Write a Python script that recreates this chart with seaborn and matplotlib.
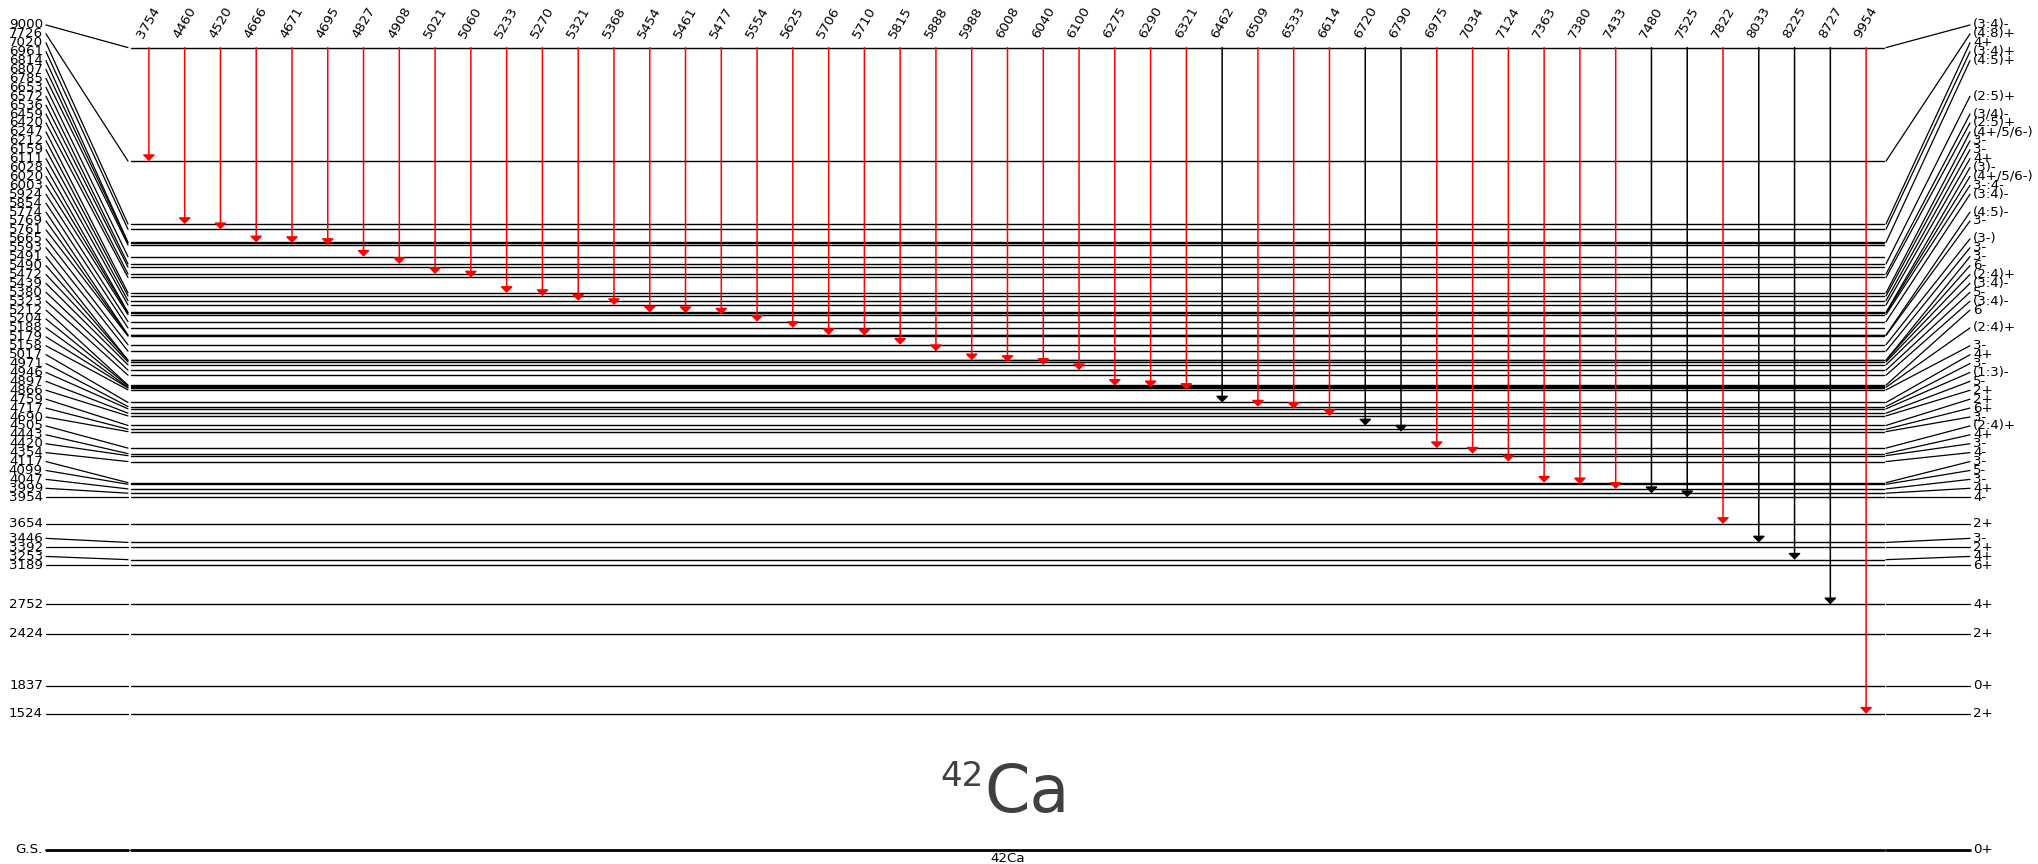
import matplotlib
matplotlib.use("Agg")
import matplotlib.pyplot as plt
import numpy as np
import pandas as pd
import seaborn as sns

# ---------------- data ----------------
levels = [9000, 7726, 7020, 6961, 6814, 6807, 6785, 6653, 6572, 6536, 6459, 6420,
          6247, 6212, 6159, 6111, 6028, 6020, 6003, 5924, 5854, 5774, 5769, 5761,
          5665, 5593, 5491, 5490, 5472, 5439, 5380, 5323, 5212, 5204, 5188, 5179,
          5158, 5017, 4971, 4946, 4897, 4866, 4759, 4717, 4690, 4505, 4443, 4420,
          4354, 4117, 4099, 4047, 3999, 3954, 3654, 3446, 3392, 3253, 3189, 2752,
          2424, 1837, 1524, 0]
level_names = [str(e) for e in levels[:-1]] + ["G.S."]
spins = ["(3:4)-", "(4:8)+", "4+", "(3:4)+", "(4:5)+", "", "", "", "(2:5)+", "",
         "(3/4)-", "(2:5)+", "(4+/5/6-)", "3-", "3-", "4+", "(3)-", "(4+/5/6-)",
         "3-:4-", "(3:4)-", "", "(4:5)-", "3-", "", "(3-)", "3-", "3-", "6-",
         "(2:4)+", "(3:4)-", "5-", "(3:4)-", "6", "", "(2:4)+", "", "3-", "4+",
         "3-", "(1:3)-", "5-", "2+", "2+", "6+", "3-", "(2:4)+", "4+", "3-", "4-",
         "3-", "5-", "3-", "4+", "4-", "2+", "3-", "2+", "4+", "6+", "4+", "2+",
         "0+", "2+", "0+"]

gammas = [3754, 4460, 4520, 4666, 4671, 4695, 4827, 4908, 5021, 5060, 5233, 5270,
          5321, 5368, 5454, 5461, 5477, 5554, 5625, 5706, 5710, 5815, 5888, 5988,
          6008, 6040, 6100, 6275, 6290, 6321, 6462, 6509, 6533, 6614, 6720, 6790,
          6975, 7034, 7124, 7363, 7380, 7433, 7480, 7525, 7822, 8033, 8225, 8727,
          9954]
gamma_final = [7726, 7020, 6961, 6814, 6807, 6785, 6653, 6572, 6459, 6420, 6247,
               6212, 6159, 6111, 6028, 6020, 6003, 5924, 5854, 5774, 5769, 5665,
               5593, 5491, 5472, 5439, 5380, 5204, 5188, 5158, 5017, 4971, 4946,
               4866, 4759, 4690, 4505, 4443, 4354, 4117, 4099, 4047, 3999, 3954,
               3654, 3446, 3253, 2752, 1524]
black_gammas = [6462, 6720, 6790, 7480, 7525, 8033, 8225, 8727]
initial_level = 9000
nucleus = "42Ca"

# ---------------- layout ----------------
W, H = 2038, 864
k = 0.0891          # px per keV
y0 = 849.5          # px of ground state
x_lab_l, x_con_l0, x_con_l1 = 43, 46, 128
x_lev0, x_lev1 = 131, 1884
x_con_r0, x_con_r1, x_lab_r = 1886, 1970, 1973
gap = 100.0
fs = 9.6

# label positions: push up from the bottom
order = np.argsort(levels)
lab_pos = np.zeros(len(levels))
prev = -1e9
for i in order:
    p = max(levels[i], prev + gap)
    lab_pos[i] = p
    prev = p

sns.set_theme(style="white")
plt.rcParams["font.family"] = ["DejaVu Sans"]
fig = plt.figure(figsize=(W / 100, H / 100), dpi=100)
ax = fig.add_axes([0, 0, 1, 1])
ax.set_xlim(0, W)
ax.set_ylim(-(H - y0) / k, y0 / k)
ax.axis("off")

# level lines
rows = []
for i, e in enumerate(levels):
    rows.append(dict(seg=i, x=x_lev0, E=e))
    rows.append(dict(seg=i, x=x_lev1, E=e))
df_lev = pd.DataFrame(rows)
sns.lineplot(data=df_lev[df_lev.E > 0], x="x", y="E", units="seg", estimator=None,
             sort=False, color="black", lw=1.0, ax=ax, legend=False)
sns.lineplot(data=df_lev[df_lev.E == 0], x="x", y="E", units="seg", estimator=None,
             sort=False, color="black", lw=2.0, ax=ax, legend=False)

# connectors
rows = []
for i, e in enumerate(levels):
    rows.append(dict(seg=f"L{i}", x=x_con_l0, E=lab_pos[i], gs=e == 0))
    rows.append(dict(seg=f"L{i}", x=x_con_l1, E=e, gs=e == 0))
    if spins[i]:
        rows.append(dict(seg=f"R{i}", x=x_con_r0, E=e, gs=e == 0))
        rows.append(dict(seg=f"R{i}", x=x_con_r1, E=lab_pos[i], gs=e == 0))
df_con = pd.DataFrame(rows)
sns.lineplot(data=df_con[~df_con.gs], x="x", y="E", units="seg", estimator=None,
             sort=False, color="black", lw=0.9, ax=ax, legend=False)
sns.lineplot(data=df_con[df_con.gs], x="x", y="E", units="seg", estimator=None,
             sort=False, color="black", lw=2.0, ax=ax, legend=False)

# labels
for i, e in enumerate(levels):
    ax.text(x_lab_l, lab_pos[i], level_names[i], ha="right", va="center",
            fontsize=fs, color="black")
    if spins[i]:
        ax.text(x_lab_r, lab_pos[i], spins[i], ha="left", va="center",
                fontsize=fs, color="black")

# gamma transitions
n = len(gammas)
slot = (x_lev1 - x_lev0) / n
for j, (g, ef) in enumerate(zip(gammas, gamma_final)):
    x = x_lev0 + (j + 0.5) * slot
    c = "black" if g in black_gammas else "red"
    ax.annotate("", xy=(x, ef), xytext=(x, initial_level),
                arrowprops=dict(arrowstyle="-|>,head_length=0.3,head_width=0.3",
                                color=c, lw=1.1, shrinkA=0, shrinkB=0))
    ax.text(x, initial_level + 85, str(g), rotation=60, ha="center", va="bottom",
            fontsize=fs, color="black")

# nucleus name
xc = (x_lev0 + x_lev1) / 2
ax.text(984, (y0 - 812) / k, "Ca", ha="left", va="baseline", fontsize=47,
        color="#404040")
ax.text(984, (y0 - 786) / k, "42", ha="right", va="baseline", fontsize=24.5,
        color="#404040")
ax.text(xc, (y0 - 858) / k, nucleus, ha="center", va="center", fontsize=fs,
        color="black")

fig.savefig("out.png", dpi=100)
